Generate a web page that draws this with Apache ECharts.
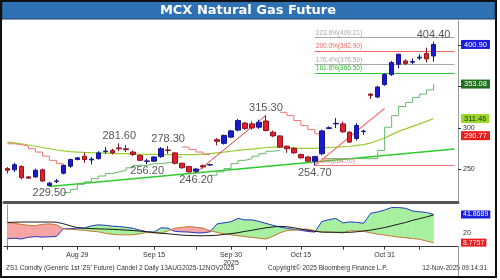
<!DOCTYPE html>
<html><head><meta charset="utf-8">
<script src="https://cdn.jsdelivr.net/npm/echarts@6/dist/echarts.min.js"></script>
<style>html,body{margin:0;padding:0;background:#fff}#c{width:500px;height:280px}</style>
</head><body><div id="c"></div>
<script>
// ---- data ----
const dates = ['Aug 13','Aug 14','Aug 18','Aug 19','Aug 20','Aug 21','Aug 22','Aug 25','Aug 26','Aug 28','Aug 29',
 'Sep 1','Sep 2','Sep 3','Sep 4','Sep 5','Sep 8','Sep 9','Sep 10','Sep 11','Sep 12','Sep 15',
 'Sep 16','Sep 17','Sep 18','Sep 19','Sep 22','Sep 23','Sep 24','Sep 25','Sep 26','Sep 29','Sep 30',
 'Oct 1','Oct 3','Oct 6','Oct 7','Oct 8','Oct 9','Oct 10','Oct 13','Oct 14','Oct 15',
 'Oct 16','Oct 17','Oct 20','Oct 21','Oct 22','Oct 23','Oct 24','Oct 27','Oct 28','Oct 29','Oct 30','Oct 31',
 'Nov 3','Nov 4','Nov 6','Nov 7','Nov 10','Nov 11','Nov 12'];
const open  = [251,249.6,253.5,241,241,249.5,230.5,235.5,245.5,254,262,266,261.5,263,271.5,273,276,275,271,267,259.8,260,265.5,273.5,270,257.5,253.5,247.8,254.5,255.3,286,281.5,289,297.5,306,305,301,308.5,295,290.5,278,275.5,268,265,260,269,299.5,305,305,295,287.5,295.7,341,337.5,352.5,364.5,377,381,379.5,384.5,390,387];
const close = [249,255.7,240,239.5,249,236,233.5,236,255,262,264,262,262.5,270,272.2,270,275,274,268,261,260.3,265,275,273,257.5,252,247,250.5,253,255.8,284,291,296.5,309,299.5,300,307,297,290.5,277,275,270,264,260,265.5,296.5,300.3,305.6,295.5,283,303,296.3,339.5,349.5,364.5,379,389,378,380.3,385.5,383.5,400.9];
const low   = [245,247,238,238.5,240,235,229.5,233.5,244,252,261,258,256,262,269,268,272,271,266,260,256.2,259,264,269,256,251,246.5,246.2,251,254.5,279,280,288,296,298,298,299,296,289,276,270,269,263,259,254.7,267,298.5,300,294,282,285,292,335,336,351,363,372,376,377,382,379,380];
const high  = [253,258,255,242,251,251,235,238.5,256,263,265,270.5,265,272,277,275,281.6,279.5,273,268,263,266,277,278.3,271,258,254,252,256,257,288,292,298,311,307,308,310,315.3,297,291,279,277,269,266,266.5,298,302,312,308,296,306,298,342,351,366,381,390,383,384,389,397,404.4];
const maLine = [283,282,281,279.5,278,276.5,275,273.5,272.5,271.5,271,270.5,270.2,270,269.7,269.4,269.2,269,268.8,268.5,268.3,268.2,268,267.9,267.8,267.8,267.8,268,268.5,269,270,271,272,273,274,274.5,275.5,276.5,277,277,276.5,276,275.5,275.5,275.5,276,276.5,277,277.5,278,279,280,282,285,288,292,296,299,302,305,308,311.46];
const stGreen = [null,null,null,null,null,null,null,null,222,226,232,235,239,242,245,247,249,252,255,255,257,257,258,260,265,null,null,null,null,243,247,251,257,261,263,266,269,272,273,null,null,null,null,null,null,263,263,263,263,263,263,263,263,273,301,315,326,331,337,341,346,353.08];
const stRed = [281,280,278,275,271,266,261,257,null,null,null,null,null,null,null,null,null,null,null,null,null,null,null,null,null,277,274,271,268,null,null,null,null,null,null,null,null,null,null,319,315,309,303,298,293,null,null,null,null,null,null,null,null,null,null,null,null,null,null,null,null,null];
const trendIdx = [6, 64];
const trendVal = [229.5, 274.6];
const swing1Idx = [27, 37], swing1Val = [246.2, 315.3];
const swing2Idx = [44, 54], swing2Val = [254.7, 323.8];
const fibNames  = ['223.6%','200.0%','176.4%','161.8%','0.0%'];
const fibLevels = [409.21, 392.90, 376.59, 366.50, 254.70];
const fibColors = ['#a8a8a8','#f06464','#a8a8a8','#33c433','#f07878'];
const highIdx = [16, 23, 37, 61], highVal = [281.6, 278.3, 315.3, 404.4];
const lowIdx  = [6, 20, 27, 44],  lowVal  = [229.5, 256.2, 246.2, 254.7];
const tagVals = [400.90, 353.08, 311.46, 290.77];
const tagBg   = ['#1c1cdc','#1e6e1e','#9ad82a','#ec1c1c'];
const tagFg   = ['#fff','#fff','#1a3300','#fff'];
const diPlus  = [13.4,14,13.1,15.1,15.9,15.3,15.7,16,25.2,25.2,25.8,25.8,28.5,29.7,29.1,28.1,27.7,26.7,25.6,23.3,21.5,21.2,26.2,25.8,21.9,21.5,21.2,20.3,20.3,21.5,30.8,32,33.4,37.2,35.5,35.5,33.7,31.4,29.1,27,25.6,24.4,23.3,21.9,21.2,33.5,35.7,37.2,32,33.1,32.6,31.6,43.3,44.8,47.1,50,50,49.1,45.9,45,44.2,41.87];
const diMinus = [32.2,31.4,30.2,29.1,28.7,30.2,30.8,29.7,25,24.4,23.8,23.3,22.3,21.5,19.8,18.6,18,18,18,19.2,20.9,20.3,20,22.7,25.6,26.7,27.7,26.7,25.8,22.7,20.9,19.2,18,16.9,15.9,15.1,14,13,16.3,20.3,23,23.5,24.1,24.7,22.7,21.2,21.2,20.9,20.1,22.7,22.7,22.1,20.3,18.8,17.7,16.5,15.3,14.5,13.6,12.8,10.6,8.78];
const adx     = [32.5,32.8,33,33,33,33,33,32.8,31,28.5,26.5,25.8,25.3,25,24.7,24.4,24,23.5,23,22.3,21.5,20.6,19.8,19.2,18.4,17.6,17.2,16.9,16.9,17,17.5,18.5,19.3,20.5,22,23.3,24.8,26.2,27.2,28,27.5,26.2,24.8,23.3,22,21.2,21,20.9,20.9,20.9,21.5,22.5,23.5,25,26.5,28.5,30.5,32.5,35,37,39,41.3];
const lowTagVals = [41.8689, 8.7757];
const lowTagBg = ['#1c1cdc','#ec1c1c'];
const xLabelIdx = [10, 21, 32, 42, 54];
const xTickIdx = [0,5,10,16,21,27,32,37,42,48,54,59];

// ---- build ----
const n = open.length;
const cats = dates.concat(['','','']);
const candleData = open.map((o,i)=>[o, close[i], low[i], high[i]]);
const idxPairs = (xs, ys) => xs.map((x,k)=>[x, ys[k]]);
const fillSegs = [];
for (let i=0;i<n-1;i++) fillSegs.push([i, diPlus[i], diMinus[i], diPlus[i+1], diMinus[i+1]]);
const GREEN='#a6f0a0', RED='#f6a4a4';
const FONT='Liberation Sans';

const fibMark = [];
fibLevels.forEach((lv,k)=>{
  fibMark.push([
    {coord:[44, lv], lineStyle:{color:fibColors[k], width:1, type:'solid'},
     label:{show:true, position:'insideStartTop', distance:1, formatter: fibNames[k]+'('+lv.toFixed(2)+')',
            color:fibColors[k], fontSize:6.5, fontFamily:FONT}},
    {coord:[64, lv]}
  ]);
});

const tagMark = tagVals.map((v,k)=>({yAxis:v, label:{show:true, position:'end', distance:3,
  formatter: v.toFixed(2), color:tagFg[k], backgroundColor:tagBg[k], padding:[1,3,0,3],
  fontSize:7.5, fontFamily:FONT}}));
const lowTagMark = lowTagVals.map((v,k)=>({yAxis:v, label:{show:true, position:'end', distance:3,
  formatter: v.toFixed(4), color:'#fff', backgroundColor:lowTagBg[k], padding:[1,2,0,2],
  fontSize:7, fontFamily:FONT}}));

const chart = echarts.init(document.getElementById('c'), null, {renderer:'canvas', width:500, height:280});
chart.setOption({
  animation:false,
  backgroundColor:'#fff',
  graphic:[
    {type:'rect', shape:{x:1,y:1,width:495,height:276}, style:{fill:'none', stroke:'#111', lineWidth:2}, z:100},
    {type:'rect', shape:{x:2,y:1,width:493,height:18}, style:{fill:'#2f72b3', stroke:'#1d3f66', lineWidth:1}, z:50},
    {type:'text', x:248, y:10.5, style:{text:'MCX Natural Gas Future', fill:'#fff', font:'bold 13px "DejaVu Sans"', textAlign:'center', textVerticalAlign:'middle'}, z:60},
    {type:'line', shape:{x1:458.5,y1:246,x2:458.5,y2:277}, style:{stroke:'#999', lineWidth:1}, z:40},
    {type:'text', x:6, y:268, style:{text:"ZS1 Comdty (Generic 1st 'ZS' Future) Candel 2 Daily 13AUG2025-12NOV2025", fill:'#333', font:'6.5px "Liberation Sans"', textVerticalAlign:'middle'}},
    {type:'text', x:268, y:268, style:{text:'Copyright\u00a9 2025 Bloomberg Finance L.P.', fill:'#333', font:'6.5px "Liberation Sans"', textVerticalAlign:'middle'}},
    {type:'text', x:487, y:268, style:{text:'12-Nov-2025 09:14:31', fill:'#333', font:'6.5px "Liberation Sans"', textAlign:'right', textVerticalAlign:'middle'}}
  ],
  grid:[
    {left:4, right:42, top:21, height:181.5},
    {left:4, right:42, top:205, height:41.7}
  ],
  xAxis:[
    {type:'category', gridIndex:0, data:cats, boundaryGap:true,
     axisLine:{show:true, lineStyle:{color:'#555', width:3}}, axisTick:{show:false}, axisLabel:{show:false}, splitLine:{show:false}},
    {type:'value', gridIndex:1, min:-0.5, max:64.5,
     axisLine:{show:true, lineStyle:{color:'#333', width:1}},
     axisTick:{show:true, customValues:xTickIdx, length:3, lineStyle:{color:'#333'}},
     axisLabel:{show:true, customValues:xLabelIdx, margin:4, fontSize:7, color:'#333', fontFamily:FONT, lineHeight:8,
       formatter:(v)=>{const i=Math.round(v); return dates[i] + (i===32?'\n2025':'');}},
     splitLine:{show:false}}
  ],
  yAxis:[
    {type:'value', gridIndex:0, position:'right', min:210.1, max:429.2, scale:true,
     axisLine:{show:true, lineStyle:{color:'#999'}},
     axisTick:{show:true, customValues:[250,300,350,400], length:3, lineStyle:{color:'#333'}},
     axisLabel:{show:true, customValues:[250,300], fontSize:7, color:'#333', margin:5, fontFamily:FONT},
     splitLine:{show:false}},
    {type:'value', gridIndex:1, position:'right', min:4, max:53,
     axisLine:{show:true, lineStyle:{color:'#999'}},
     axisTick:{show:true, customValues:[20], length:3, lineStyle:{color:'#333'}},
     axisLabel:{show:true, customValues:[20], fontSize:7, color:'#333', margin:5, fontFamily:FONT},
     splitLine:{show:false}}
  ],
  series:[
    {name:'MA', type:'line', xAxisIndex:0, yAxisIndex:0, data:maLine, symbol:'none', lineStyle:{color:'#9acd32', width:1.2}, z:2},
    {name:'Trend', type:'line', xAxisIndex:0, yAxisIndex:0, data:idxPairs(trendIdx, trendVal), symbol:'none', lineStyle:{color:'#2ecc2e', width:1.5}, z:2,
     markLine:{silent:true, symbol:'none', data:fibMark}},
    {name:'ST up', type:'line', xAxisIndex:0, yAxisIndex:0, data:stGreen, step:'end', connectNulls:false, symbol:'none', lineStyle:{color:'#6ab56a', width:1}, z:2},
    {name:'ST down', type:'line', xAxisIndex:0, yAxisIndex:0, data:stRed, step:'end', connectNulls:false, symbol:'none', lineStyle:{color:'#ee7474', width:1}, z:2},
    {name:'Swing1', type:'line', xAxisIndex:0, yAxisIndex:0, data:idxPairs(swing1Idx, swing1Val), symbol:'none', lineStyle:{color:'#e23c3c', width:1}, z:3},
    {name:'Swing2', type:'line', xAxisIndex:0, yAxisIndex:0, data:idxPairs(swing2Idx, swing2Val), symbol:'none', lineStyle:{color:'#f27c7c', width:1.3}, z:3},
    {name:'ZS1', type:'candlestick', xAxisIndex:0, yAxisIndex:0, data:candleData, barWidth:5, z:5,
     itemStyle:{color:'#1a1ad0', color0:'#e41e2c', borderColor:'#16168a', borderColor0:'#8c1620', borderWidth:1},
     markLine:{silent:true, symbol:'none', lineStyle:{color:'rgba(0,0,0,0)', width:0}, data:tagMark}},
    {name:'Highs', type:'scatter', xAxisIndex:0, yAxisIndex:0, data:idxPairs(highIdx, highVal), symbolSize:1, itemStyle:{color:'rgba(0,0,0,0)'}, z:6,
     label:{show:true, position:'top', distance:1, formatter:(p)=>p.value[1].toFixed(2), color:'#2a2a2a', fontSize:11, fontFamily:FONT}},
    {name:'Lows', type:'scatter', xAxisIndex:0, yAxisIndex:0, data:idxPairs(lowIdx, lowVal), symbolSize:1, itemStyle:{color:'rgba(0,0,0,0)'}, z:6,
     label:{show:true, position:'bottom', distance:1, formatter:(p)=>p.value[1].toFixed(2), color:'#2a2a2a', fontSize:11, fontFamily:FONT}},
    {name:'Fill', type:'custom', xAxisIndex:1, yAxisIndex:1, data:fillSegs, encode:{x:0, y:[1,2]}, z:1,
     renderItem:function(params, api){
       const i=api.value(0), b0=api.value(1), m0=api.value(2), b1=api.value(3), m1=api.value(4);
       const P=(x,v)=>api.coord([x,v]);
       const d0=b0-m0, d1=b1-m1; const kids=[];
       const poly=(pts,pos)=>kids.push({type:'polygon', shape:{points:pts}, style:{fill:pos?GREEN:RED, stroke:pos?GREEN:RED, lineWidth:0.6}});
       if (d0*d1<0){ const t=d0/(d0-d1); const x=i+t; const v=b0+t*(b1-b0);
         poly([P(i,b0),P(x,v),P(i,m0)], d0>0); poly([P(x,v),P(i+1,b1),P(i+1,m1)], d1>0);
       } else { poly([P(i,b0),P(i+1,b1),P(i+1,m1),P(i,m0)], (d0+d1)>=0); }
       return {type:'group', children:kids};
     }},
    {name:'DI+', type:'line', xAxisIndex:1, yAxisIndex:1, data:diPlus.map((v,i)=>[i,v]), symbol:'none', lineStyle:{color:'#2b3ccc', width:1}, z:3,
     markLine:{silent:true, symbol:'none', lineStyle:{color:'rgba(0,0,0,0)', width:0}, data:lowTagMark}},
    {name:'DI-', type:'line', xAxisIndex:1, yAxisIndex:1, data:diMinus.map((v,i)=>[i,v]), symbol:'none', lineStyle:{color:'#c97a3a', width:1}, z:3},
    {name:'ADX', type:'line', xAxisIndex:1, yAxisIndex:1, data:adx.map((v,i)=>[i,v]), symbol:'none', lineStyle:{color:'#1a1a1a', width:1}, z:4}
  ]
});
</script>
</body></html>
